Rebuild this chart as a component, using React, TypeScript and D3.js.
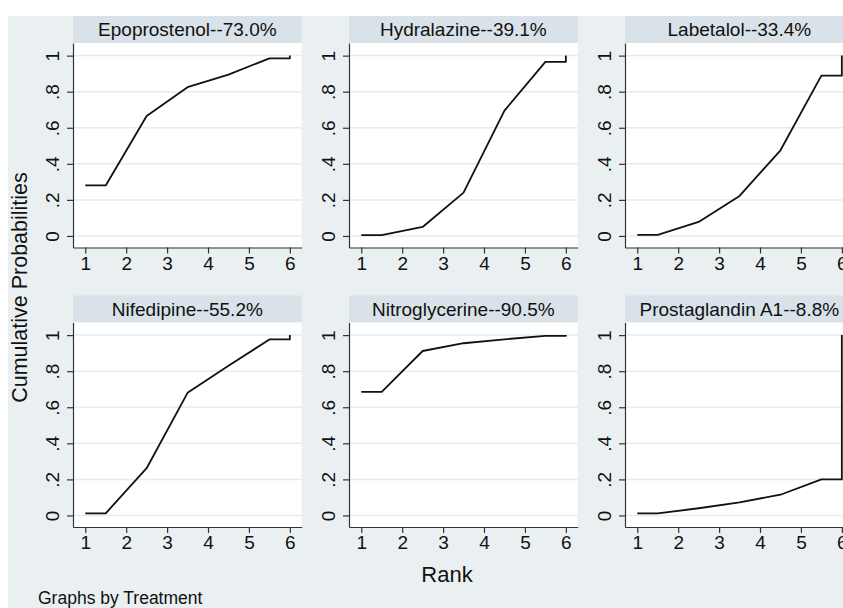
import React from 'react';
import * as d3 from 'd3';

// SUCRA cumulative ranking curves, one panel per treatment
const treatments = ['Epoprostenol', 'Hydralazine', 'Labetalol', 'Nifedipine', 'Nitroglycerine', 'Prostaglandin A1'];
const sucraLabels = ['73.0%', '39.1%', '33.4%', '55.2%', '90.5%', '8.8%'];

// cumulative probability of being within the top k ranks, k = 1..6
const epoprostenol = [0.28, 0.665, 0.825, 0.895, 0.985, 1];
const hydralazine = [0.005, 0.05, 0.24, 0.695, 0.965, 1];
const labetalol = [0.006, 0.078, 0.222, 0.475, 0.889, 1];
const nifedipine = [0.012, 0.262, 0.68, 0.83, 0.976, 1];
const nitroglycerine = [0.685, 0.912, 0.955, 0.977, 0.996, 1];
const prostaglandinA1 = [0.012, 0.04, 0.073, 0.115, 0.2, 1];

const curves = [epoprostenol, hydralazine, labetalol, nifedipine, nitroglycerine, prostaglandinA1];

const rankTicks = [1, 2, 3, 4, 5, 6];
const probTicks = [0, 0.2, 0.4, 0.6, 0.8, 1];
const probTickLabels = ['0', '.2', '.4', '.6', '.8', '1'];

const W = 843;
const H = 608;
const FONT = '"Liberation Sans", Arial, Helvetica, sans-serif';

const bgColor = '#eaf0f2';
const headerColor = '#d8e2e8';
const gridColor = '#e3ecf1';
const axisColor = '#333';

const plotChart = (ref) => {
    const svg = d3.select(ref.current);
    svg.selectAll('*').remove();

    svg.append('rect').attr('width', W).attr('height', H).attr('fill', '#fff');
    svg.append('rect').attr('x', 8).attr('y', 16).attr('width', W).attr('height', H).attr('fill', bgColor);

    const colLeft = [73, 349, 625];
    const rowTop = [16, 295.5];
    const panelW = 228.7;
    const headerH = 27;
    const axisOffset = 231.5;

    treatments.forEach((name, i) => {
        const left = colLeft[i % 3];
        const top = rowTop[Math.floor(i / 3)];
        const bottom = top + axisOffset;

        const x = d3.scaleLinear().domain([0.7, 6.29]).range([left, left + panelW]);
        const y = d3.scaleLinear().domain([-0.064, 1.07]).range([bottom, top + headerH]);

        const g = svg.append('g');

        // subtitle box
        g.append('rect')
            .attr('x', left).attr('y', top)
            .attr('width', panelW).attr('height', headerH)
            .attr('fill', headerColor);
        g.append('text')
            .attr('x', left + panelW / 2)
            .attr('y', top + 20)
            .attr('text-anchor', 'middle')
            .attr('font-family', FONT)
            .attr('font-size', '19px')
            .attr('fill', '#111')
            .text(`${name}--${sucraLabels[i]}`);

        // plot region
        g.append('rect')
            .attr('x', left).attr('y', top + headerH)
            .attr('width', panelW).attr('height', bottom - top - headerH)
            .attr('fill', '#fff');

        g.selectAll('.grid')
            .data(probTicks)
            .enter().append('line')
            .attr('x1', left).attr('x2', left + panelW)
            .attr('y1', d => y(d)).attr('y2', d => y(d))
            .attr('stroke', gridColor)
            .attr('stroke-width', 1.5);

        // axes
        const xAxis = g.append('g')
            .attr('transform', 'translate(0,' + bottom + ')')
            .call(d3.axisBottom(x).tickValues(rankTicks).tickSize(6).tickSizeOuter(0).tickFormat(d3.format('d')));
        xAxis.selectAll('text')
            .attr('y', 22).attr('dy', 0)
            .attr('font-family', FONT).attr('font-size', '19px').attr('fill', '#111');

        const yAxis = g.append('g')
            .attr('transform', 'translate(' + left + ',0)')
            .call(d3.axisLeft(y).tickValues(probTicks).tickSize(6).tickSizeOuter(0).tickFormat((d, j) => probTickLabels[j]));
        yAxis.selectAll('text')
            .attr('transform', 'rotate(-90)')
            .attr('x', 0).attr('y', -14).attr('dy', 0)
            .attr('text-anchor', 'middle')
            .attr('font-family', FONT).attr('font-size', '19px').attr('fill', '#111');

        [xAxis, yAxis].forEach(a => {
            a.selectAll('path, line').attr('stroke', axisColor).attr('stroke-width', 1.2);
        });

        // cumulative ranking curve: flat first step, midpoints, flat last step, jump to 1
        const c = curves[i];
        const pts = [
            [1, c[0]], [1.5, c[0]],
            ...c.slice(1, 5).map((v, k) => [k + 2.5, v]),
            [6, c[4]], [6, c[5]]
        ];
        g.append('path')
            .datum(pts)
            .attr('fill', 'none')
            .attr('stroke', '#111')
            .attr('stroke-width', 1.8)
            .attr('stroke-linejoin', 'round')
            .attr('d', d3.line().x(d => x(d[0])).y(d => y(d[1])));
    });

    svg.append('text')
        .attr('transform', 'translate(27,287.5) rotate(-90)')
        .attr('text-anchor', 'middle')
        .attr('font-family', FONT)
        .attr('font-size', '21.5px')
        .attr('fill', '#111')
        .text('Cumulative Probabilities');

    svg.append('text')
        .attr('x', 447).attr('y', 582)
        .attr('text-anchor', 'middle')
        .attr('font-family', FONT)
        .attr('font-size', '22px')
        .attr('fill', '#111')
        .text('Rank');

    svg.append('text')
        .attr('x', 38).attr('y', 604)
        .attr('font-family', FONT)
        .attr('font-size', '17.5px')
        .attr('fill', '#111')
        .text('Graphs by Treatment');
};

export default function App() {
    const ref = React.useRef(null);

    React.useEffect(() => {
        plotChart(ref);
    }, []);

    return (
        <svg
            ref={ref}
            width={W}
            height={H}
            style={{ position: 'fixed', left: 0, top: 0, display: 'block' }}
        />
    );
}
